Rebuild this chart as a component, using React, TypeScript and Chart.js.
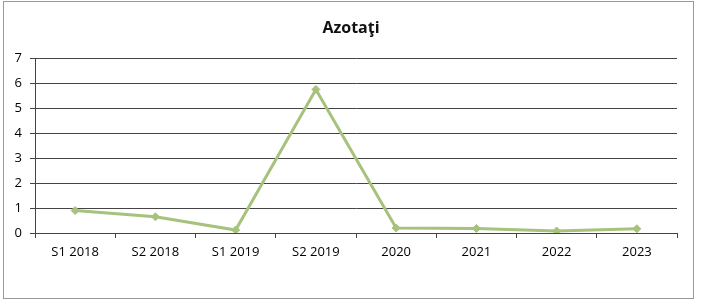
import React, { useEffect, useRef } from "react";
import { Chart, registerables } from "chart.js";

Chart.register(...registerables);

const categories = ["S1 2018", "S2 2018", "S1 2019", "S2 2019", "2020", "2021", "2022", "2023"];
const azotati = [0.9, 0.65, 0.12, 5.75, 0.2, 0.18, 0.08, 0.17];
const yTicks = [0, 1, 2, 3, 4, 5, 6, 7];
const chartTitle = "Azotaţi";

export default function App() {
  const ref = useRef<HTMLCanvasElement | null>(null);
  useEffect(() => {
    document.body.style.margin = "0";
    const ctx = ref.current!;
    const chart = new Chart(ctx, {
      type: "line",
      data: {
        labels: categories,
        datasets: [
          {
            data: azotati,
            borderColor: "#a6c27c",
            backgroundColor: "#a6c27c",
            borderWidth: 3,
            pointStyle: "rectRot",
            pointRadius: 4,
            pointBorderWidth: 1,
            tension: 0,
            yAxisID: "y",
          },
        ],
      },
      options: {
        animation: false,
        responsive: false,
        layout: { padding: { left: 0, right: 0, top: 8, bottom: 0 } },
        plugins: {
          legend: { display: false },
          tooltip: { enabled: false },
          title: {
            display: true,
            text: chartTitle,
            color: "#111",
            font: { family: "'Open Sans', sans-serif", size: 16, weight: "bold" },
            padding: { top: 11, bottom: 20 },
          },
        },
        scales: {
          x: {
            offset: true,
            grid: {
              offset: true,
              drawOnChartArea: false,
              drawTicks: true,
              tickLength: 5,
              color: "#444",
            },
            border: { display: true, color: "#444" },
            ticks: {
              color: "#000",
              padding: 6,
              maxRotation: 0,
              font: { family: "'Open Sans', sans-serif", size: 13 },
            },
            afterFit: (s: any) => {
              s.height = 68;
            },
          },
          y: {
            min: 0,
            max: 7,
            afterBuildTicks: (s: any) => {
              s.ticks = yTicks.map((v) => ({ value: v }));
            },
            grid: {
              color: "#444",
              lineWidth: 1,
              drawTicks: true,
              tickLength: 5,
            },
            border: { display: true, color: "#444" },
            ticks: {
              color: "#000",
              padding: 8,
              font: { family: "'Open Sans', sans-serif", size: 13 },
            },
            afterFit: (s: any) => {
              s.width = 35;
            },
          },
          yRight: {
            position: "right",
            min: 0,
            max: 7,
            grid: { display: false, drawOnChartArea: false },
            border: { display: false },
            ticks: { display: false },
            afterFit: (s: any) => {
              s.width = 25;
            },
          },
        },
      },
    });
    return () => chart.destroy();
  }, []);
  return (
    <div style={{ position: "relative", width: 702, height: 301, background: "#fff" }}>
      <canvas ref={ref} width={702} height={301} style={{ position: "absolute", left: 0, top: 0 }} />
      <div
        style={{
          position: "absolute",
          left: 3,
          top: 1,
          width: 689,
          height: 296,
          border: "1px solid #999",
          pointerEvents: "none",
        }}
      />
    </div>
  );
}
